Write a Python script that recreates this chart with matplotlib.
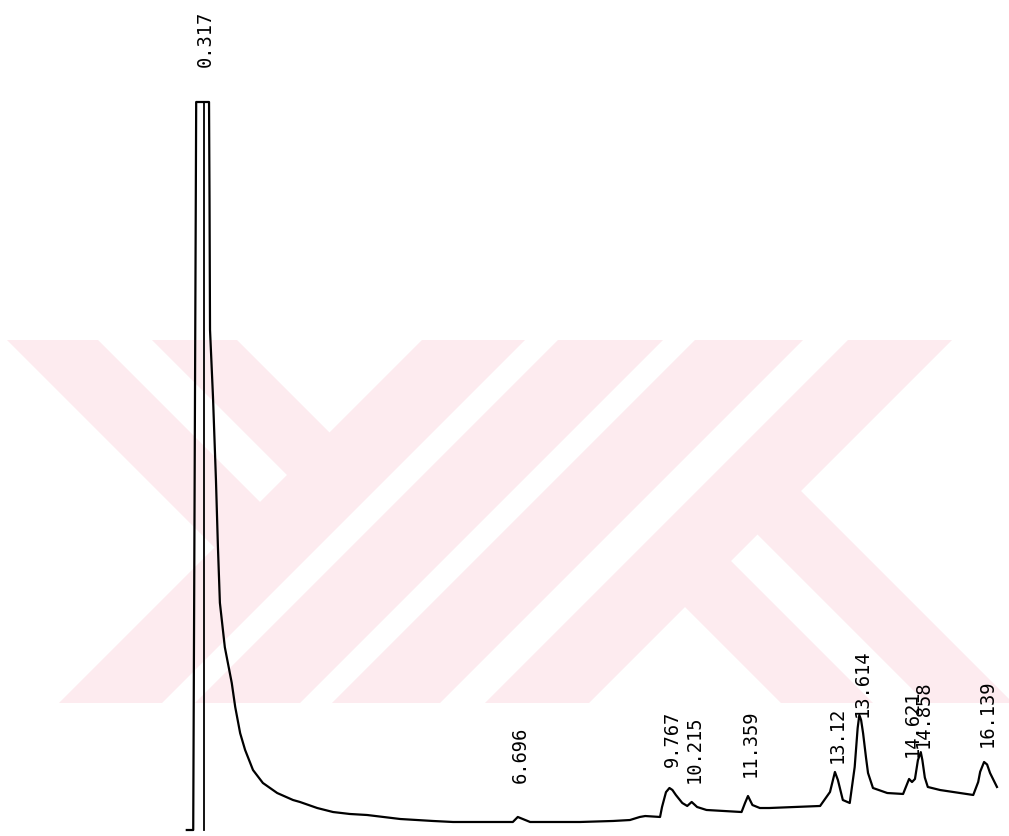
import numpy as np
import matplotlib
matplotlib.use("Agg")
import matplotlib.pyplot as plt
from matplotlib.patches import Polygon

# Chromatogram trace (time in min, signal in % of full scale)
time_min = [0.0, 0.13, 0.19, 0.45, 0.46, 0.47, 0.53, 0.59, 0.63, 0.67, 0.77, 0.91,
            0.98, 1.08, 1.18, 1.34, 1.54, 1.83, 2.15, 2.29, 2.64, 2.96, 3.30, 3.65,
            4.32, 4.98, 5.39, 6.34, 6.60, 6.70, 6.95, 7.96, 8.63, 8.97, 9.17, 9.28,
            9.58, 9.62, 9.70, 9.77, 9.83, 9.90, 10.03, 10.13, 10.22, 10.33, 10.52,
            11.23, 11.30, 11.36, 11.45, 11.60, 11.79, 12.82, 13.02, 13.12, 13.18,
            13.28, 13.42, 13.52, 13.58, 13.614, 13.65, 13.69, 13.75, 13.79, 13.89,
            14.18, 14.50, 14.621, 14.68, 14.74, 14.80, 14.858, 14.89, 14.94, 15.00,
            15.25, 15.92, 16.02, 16.06, 16.139, 16.20, 16.26, 16.40]
signal = [0.0, 0.0, 100.0, 100.0, 86.5, 68.7, 59.5, 48.1, 38.9, 31.2, 25.1, 20.2,
          16.9, 13.3, 11.0, 8.24, 6.46, 5.08, 4.12, 3.85, 3.02, 2.47, 2.20, 2.06,
          1.51, 1.24, 1.10, 1.10, 1.10, 1.79, 1.10, 1.10, 1.24, 1.37, 1.79, 1.92,
          1.79, 3.16, 5.2, 5.77, 5.5, 4.81, 3.71, 3.30, 3.85, 3.16, 2.75,
          2.47, 3.71, 4.67, 3.43, 3.02, 3.02, 3.30, 5.22, 7.97, 6.87,
          4.12, 3.71, 8.65, 14.0, 15.8, 15.1, 13.3, 9.9, 7.83, 5.77,
          5.08, 4.95, 7.01, 6.59, 7.01, 9.6, 10.7, 9.6, 7.2, 5.91,
          5.49, 4.81, 6.59, 8.0, 9.34, 9.0, 7.83, 5.91]

# retention times printed by the integrator
peak_rt = [0.317, 6.696, 9.767, 10.215, 11.359, 13.12, 13.614, 14.621, 14.858, 16.139]
peak_labels = ["0.317", "6.696", "9.767", "10.215", "11.359", "13.12", "13.614",
               "14.621", "14.858", "16.139"]
# height where each printed label starts
label_base = [104.8, 6.46, 8.65, 6.46, 7.28, 9.2, 15.5, 10.0, 11.3, 11.4]

# drop line through the off-scale solvent peak
solvent_mark = 0.35

W, H = 1009, 836
PINK = "#fdebef"


def draw_watermark(fig):
    """Background logo stamp, drawn in pixel coordinates of the page"""
    bg = fig.add_axes([0, 0, 1, 1], zorder=0)
    bg.set_xlim(0, W)
    bg.set_ylim(H, 0)
    bg.axis("off")
    top, bot = 340, 703
    shapes = []
    # four "/" bands, given by x+y range
    for c1, c2 in [(762, 865), (898, 1003), (1035, 1143), (1188, 1292)]:
        shapes.append([(c1 - top, top), (c2 - top, top), (c2 - bot, bot), (c1 - bot, bot)])
    # "\" arms of the left letter, ending on the first band
    for d1, d2 in [(-333, -242), (-188, -103)]:
        end = 770
        shapes.append([(d1 + top, top), (d2 + top, top),
                       ((end + d2) / 2, (end - d2) / 2), ((end + d1) / 2, (end - d1) / 2)])
    # "\" legs of the right letter, starting on the last band
    for d1, d2 in [(223, 310), (78, 170)]:
        start = 1285
        shapes.append([((start + d2) / 2, (start - d2) / 2), (d2 + bot, bot),
                       (d1 + bot, bot), ((start + d1) / 2, (start - d1) / 2)])
    for pts in shapes:
        bg.add_patch(Polygon(pts, closed=True, facecolor=PINK, edgecolor="none"))


def draw_trace(fig):
    ax = fig.add_axes([0, 0, 1, 1], zorder=1)
    ax.patch.set_alpha(0)
    px_per_min = 49.4
    x0 = 186.8
    ax.set_xlim(-x0 / px_per_min, (W - x0) / px_per_min)
    ax.set_ylim(-6 / 7.28, 830 / 7.28)
    ax.axis("off")

    ax.plot(time_min, signal, color="black", lw=1.6, solid_joinstyle="round")
    ax.plot([solvent_mark, solvent_mark], [0, 100], color="black", lw=1.3)

    for rt, lab, yb in zip(peak_rt, peak_labels, label_base):
        ax.annotate(lab, xy=(rt, yb), xytext=(2, 0), textcoords="offset points",
                    rotation=90, ha="center", va="bottom",
                    fontsize=13.5, family="DejaVu Sans Mono", color="black")
    return ax


fig = plt.figure(figsize=(W / 100, H / 100), dpi=100)
fig.patch.set_facecolor("white")
draw_watermark(fig)
draw_trace(fig)
fig.savefig("out.png", dpi=100, facecolor="white")
